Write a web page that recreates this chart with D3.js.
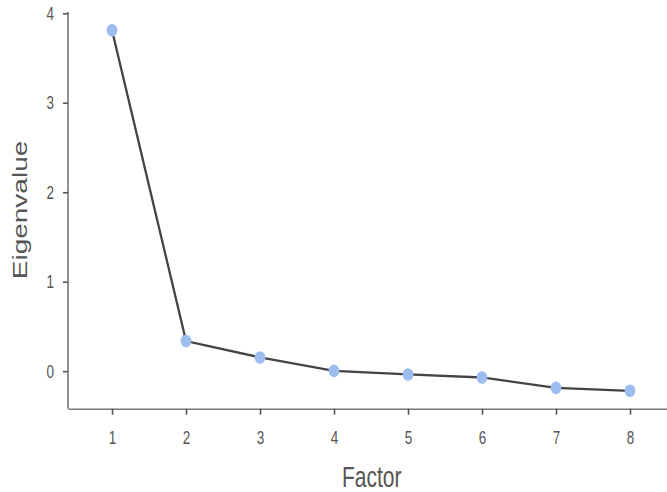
<!DOCTYPE html>
<html><head><meta charset="utf-8">
<script src="https://cdn.jsdelivr.net/npm/d3@7"></script>
<style>body{margin:0;background:#fff}svg{display:block}text{font-family:"Liberation Sans",Arial,sans-serif}</style>
</head><body>
<svg id="c" width="667" height="492"></svg>
<script>
const factors = [1,2,3,4,5,6,7,8];
const eigenvalues = [3.81,0.336,0.153,0.003,-0.037,-0.071,-0.187,-0.22];
const yTicks = [0,1,2,3,4];

const svg = d3.select("#c");
const x = d3.scaleLinear().domain([0.405,8.5]).range([68,667]);
const y = d3.scaleLinear().domain([-0.42,4]).range([408.7,13.3]);

const gx = svg.append("g").attr("transform","translate(0,408.7)")
  .call(d3.axisBottom(x).tickValues(factors).tickFormat(d3.format("d")).tickSize(6).tickSizeOuter(0));
const gy = svg.append("g").attr("transform","translate(68,0)")
  .call(d3.axisLeft(y).tickValues(yTicks).tickFormat(d3.format("d")).tickSize(5).tickSizeOuter(0));
[gx,gy].forEach(g=>{
  g.select(".domain").attr("stroke","#777").attr("stroke-width",1.6);
  g.selectAll(".tick line").attr("stroke","#555").attr("stroke-width",1.6);
  g.selectAll(".tick text").attr("fill","#555").style("font-size","13.5px").attr("dy",null).attr("y",0).attr("x",0);
});
gx.selectAll(".tick text").attr("transform","translate(0,35.5) scale(1,1.35)");
gy.selectAll(".tick text").attr("transform","translate(-14,6) scale(1,1.35)");
gy.select(".domain").attr("d","M0,12V408.7");

const pts = factors.map((f,i)=>[f,eigenvalues[i]]);
svg.append("path").datum(pts)
  .attr("fill","none").attr("stroke","#444").attr("stroke-width",2.3)
  .attr("d",d3.line().x(d=>x(d[0])).y(d=>y(d[1])));
svg.selectAll("ellipse").data(pts).join("ellipse")
  .attr("cx",d=>x(d[0])).attr("cy",d=>y(d[1])).attr("rx",5.4).attr("ry",6.3).attr("fill","#9dbdf0");

svg.append("text").attr("transform","translate(371.7,486.5) scale(1,1.4)").attr("text-anchor","middle")
  .attr("fill","#555").style("font-size","21px").text("Factor");
svg.append("text").attr("transform","translate(27,210) rotate(-90) scale(1.4,1)").attr("text-anchor","middle")
  .attr("fill","#555").style("font-size","20px").text("Eigenvalue");
</script>
</body></html>
